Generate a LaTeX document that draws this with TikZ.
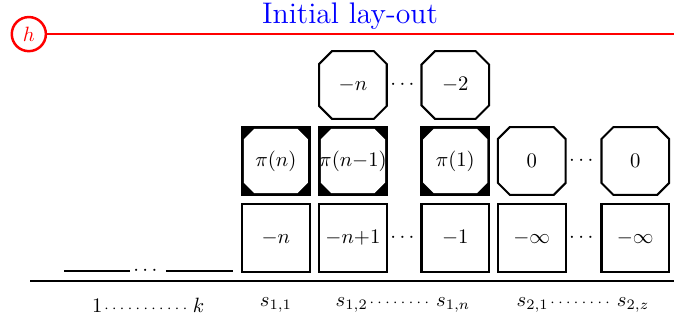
\documentclass[tikz,border=0pt]{standalone}
\usepackage{amsmath,amssymb}
\usepackage{tikz}
\usetikzlibrary{calc,positioning,shapes.misc}
\newcommand{\dotrun}[1]{\hbox to #1{\leaders\hbox to 3.8pt{\hss$\scriptstyle\cdot$\hss}\hfill}}

\begin{document}
\begin{tikzpicture}[cell/.style={draw,line width=1pt,minimum size=1.15cm,inner sep=0pt},
    octo/.style={cell,chamfered rectangle,chamfered rectangle xsep=0.14cm},
    inner/.style={chamfered rectangle,chamfered rectangle xsep=0.24cm,fill=white,minimum size=1.09cm,inner sep=0pt},
    floor/.style={line width=1pt}]
    \useasboundingbox (0,0) rectangle (11.458,-5.44);
    % header
    \node[text=blue,font=\Large] (title) at (5.95,-0.27) {Initial lay-out};
    \node[circle,draw=red,text=red,line width=1.2pt,minimum size=0.58cm,inner sep=0pt] (h) at (0.49,-0.58) {$h$};
    \coordinate (hend) at (11.458,-0.58);
    \draw[red,line width=1.2pt] (h)--(hend);
    % top row
    \node[octo] (tn) at (6.00,-1.445) {$-n$};
    \node (tdots) at (6.87,-1.445) {$\cdots$};
    \node[octo] (t2) at (7.74,-1.445) {$-2$};
    % middle row
    \node[cell,fill=black] (pn) at (4.69,-2.737) {};
    \node[inner] (pnin) at (pn) {\makebox[0pt]{$\pi(n)$}};
    \node[cell,fill=black] (pn1) at (6.00,-2.737) {};
    \node[inner] (pn1in) at (pn1) {\makebox[0pt]{$\pi(n{-}1)$}};
    \node[cell,fill=black] (p1) at (7.74,-2.737) {};
    \node[inner] (p1in) at (p1) {\makebox[0pt]{$\pi(1)$}};
    \node[octo] (z1) at (9.04,-2.737) {$0$};
    \node (zdots) at (9.91,-2.737) {$\cdots$};
    \node[octo] (z2) at (10.80,-2.737) {$0$};
    % bottom row
    \node[cell] (bn) at (4.69,-4.046) {$-n$};
    \node[cell] (bn1) at (6.00,-4.046) {$-n{+}1$};
    \node (bdots) at (6.87,-4.046) {$\cdots$};
    \node[cell] (b1) at (7.74,-4.046) {$-1$};
    \node[cell] (inf1) at (9.04,-4.046) {$-\infty$};
    \node (infdots) at (9.91,-4.046) {$\cdots$};
    \node[cell] (inf2) at (10.80,-4.046) {$-\infty$};
    % floor
    \draw[floor] (0.51,-4.777)--(11.458,-4.777);
    \draw[floor] (1.09,-4.607)--(2.21,-4.607);
    \node (fdots) at (2.50,-4.60) {$\cdots$};
    \draw[floor] (2.82,-4.607)--(3.96,-4.607);
    % slot labels
    \node (l1) at (2.52,-5.185) {$1$\dotrun{42pt}\,$k$};
    \node (l2) at (4.69,-5.185) {$s_{1,1}$};
    \node (l3) at (6.85,-5.185) {$s_{1,2}$\dotrun{33pt}$s_{1,n}$};
    \node (l4) at (9.91,-5.185) {$s_{2,1}$\dotrun{33pt}$s_{2,z}$};
  \end{tikzpicture}
\end{document}
